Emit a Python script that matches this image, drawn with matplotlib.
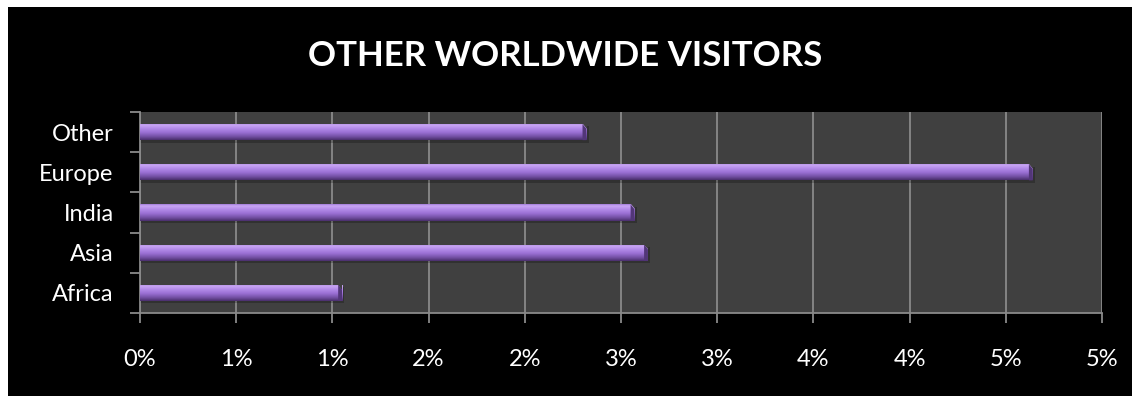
import numpy as np
import matplotlib
matplotlib.use("Agg")
import matplotlib.pyplot as plt
from matplotlib.patches import Rectangle, Polygon
from matplotlib.colors import LinearSegmentedColormap
from matplotlib.ticker import FuncFormatter, MultipleLocator, FixedLocator

# Share of visitors by region (percent)
regions = ["Africa", "Asia", "India", "Europe", "Other"]
shares = [1.05, 2.64, 2.57, 4.64, 2.32]
title = "OTHER WORLDWIDE VISITORS"

plt.rcParams["font.family"] = ["Lato", "DejaVu Sans"]

fig = plt.figure(figsize=(11.32, 3.96), dpi=100, facecolor="white")
W, H = 1132, 396
# black chart area inside a thin white frame
fig.patches.append(Rectangle((8 / W, 0), 1 - 8 / W, 1 - 7 / H, transform=fig.transFigure,
                             facecolor="black", edgecolor="none", zorder=-10))

ax = fig.add_axes([140 / W, 1 - 313 / H, 962 / W, 201 / H])
ax.set_zorder(1)
ax.set_facecolor("#404040")

ypos = np.arange(len(regions))
bar_h = 0.4

# vertical gradient for the bars: light rim on top, darker underside
grad = LinearSegmentedColormap.from_list(
    "bar", [(0.0, "#a27cd8"), (0.1, "#c9a6f4"), (0.3, "#b48cea"),
            (0.55, "#9a70d4"), (0.8, "#7350a4"), (1.0, "#4a2f6c")])
gimg = np.linspace(0, 1, 64).reshape(-1, 1)

bevel = 0.02   # width of the dark end face (x units)
drop = 0.12    # height of the diagonal cut on the top corner (y units)
bars = ax.barh(ypos, shares, height=bar_h, color="#8a5fc0", edgecolor="none", zorder=3)
for bar, y, v in zip(bars, ypos, shares):
    top, bot = y + bar_h / 2, y - bar_h / 2
    # soft shadow under each bar
    ax.barh(y - 0.06, v + 0.012, height=bar_h, left=0.0, color="black", alpha=0.22,
            edgecolor="none", zorder=2)
    im = ax.imshow(gimg, cmap=grad, aspect="auto", interpolation="bilinear",
                   origin="upper", extent=(0, v, bot, top), zorder=4)
    im.set_clip_path(bar)
    # cut the top-right corner and shade the end face
    ax.add_patch(Polygon([(v - bevel, top), (v + 0.001, top), (v + 0.001, top - drop)],
                         closed=True, facecolor="#404040", edgecolor="none", zorder=5))
    ax.add_patch(Polygon([(v - bevel, top), (v, top - drop), (v, bot), (v - bevel, bot)],
                         closed=True, facecolor="#523678", edgecolor="none", zorder=5))

ax.set_xlim(0, 5.0)
ax.set_ylim(-0.5, len(regions) - 0.5)

# x axis: half-percent steps, labels rounded half up as whole percents
ax.xaxis.set_major_locator(MultipleLocator(0.5))
ax.xaxis.set_major_formatter(FuncFormatter(lambda v, p: f"{int(np.floor(v + 0.5))}%"))
ax.grid(axis="x", color="#8a8a8a", linewidth=1.3, zorder=1)
ax.set_axisbelow(True)

# y axis: ticks on category boundaries, labels at category centres
ax.yaxis.set_major_locator(FixedLocator(np.arange(-0.5, len(regions), 1.0)))
ax.yaxis.set_major_formatter(FuncFormatter(lambda v, p: ""))
ax.set_yticks(ypos, labels=regions, minor=True)

ax.tick_params(axis="x", colors="#8a8a8a", length=7, width=1.3, labelcolor="white",
               labelsize=17, pad=19)
ax.tick_params(axis="y", which="major", colors="#8a8a8a", length=7, width=1.3)
ax.tick_params(axis="y", which="minor", length=0, labelcolor="white", labelsize=17, pad=19)

for side in ("top", "right"):
    ax.spines[side].set_visible(False)
for side in ("left", "bottom"):
    ax.spines[side].set_color("#8a8a8a")
    ax.spines[side].set_linewidth(1.3)

fig.text(565 / W, 1 - 56 / H, title, color="white", fontsize=25, fontweight="bold",
         ha="center", va="center")

fig.savefig("out.png", dpi=100, facecolor=fig.get_facecolor())
